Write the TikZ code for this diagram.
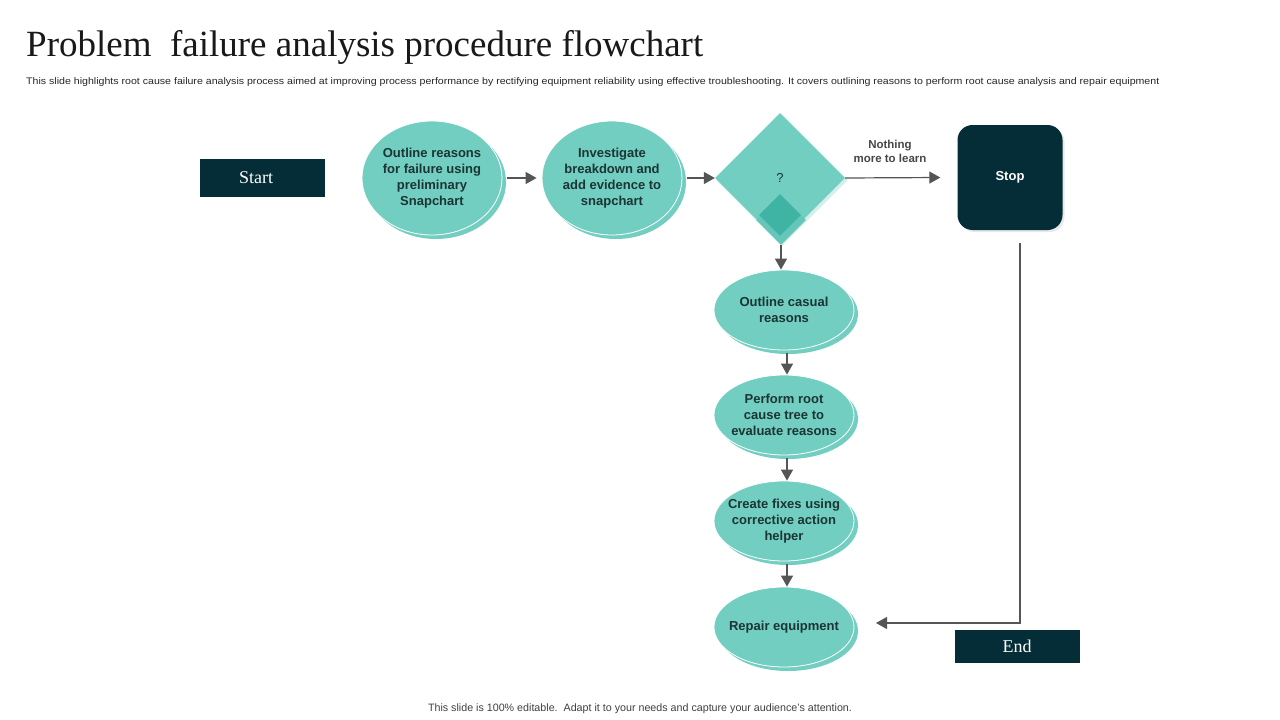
\documentclass[tikz,border=0pt]{standalone}
\usepackage{fontspec}
\setmainfont{Liberation Serif}
\setsansfont{Liberation Sans}
\usetikzlibrary{shapes.geometric,arrows.meta,shadows}
\definecolor{tealc}{HTML}{72CEC1}
\definecolor{tealdark}{HTML}{3FB3A4}
\definecolor{darkbox}{HTML}{042D38}
\definecolor{txt}{HTML}{1B3434}
\definecolor{arr}{HTML}{555555}
\tikzset{
  oval/.style={ellipse, fill=tealc, draw=white, line width=0.8pt,
    minimum width=140pt, minimum height=#1, inner sep=0pt,
    copy shadow={shadow xshift=4pt, shadow yshift=-4pt, fill=tealc, draw=none}},
  oval/.default=80pt,
  ovaltext/.style={font=\sffamily\bfseries\fontsize{13}{16}\selectfont, text=txt, align=center, inner sep=0pt},
  darkrect/.style={rectangle, fill=darkbox, text=white, font=\fontsize{18}{20}\selectfont,
    minimum width=125pt, inner sep=0pt},
  flow/.style={draw=arr, line width=1.2pt, -{Triangle[length=11pt,width=12pt]}},
}
\begin{document}
\begin{tikzpicture}[x=1pt,y=-1pt]
\useasboundingbox[fill=white] (0,0) rectangle (1280,720);
% title
\node[anchor=west, inner sep=0pt, font=\fontsize{37}{40}\selectfont, text=black!90] (title) at (26,47) {Problem\ \ failure analysis procedure flowchart};
\node[anchor=west, inner sep=0pt, font=\sffamily\fontsize{10.6}{12}\selectfont, text=black!85] (sub) at (26,82.5) {\scalebox{1}[0.9]{This slide highlights root cause failure analysis process aimed at improving process performance by rectifying equipment reliability\ using effective troubleshooting. It covers outlining reasons to perform root cause analysis and repair equipment}};
% start
\node[darkrect, minimum height=38pt, text width=125pt, align=center] (start) at (262,178) {Start\hspace*{12pt}};
% ovals top row
\node[oval=114pt] (o1) at (432,178) {};
\node[ovaltext] (o1t) at (o1) {Outline reasons\\for failure using\\preliminary\\Snapchart};
\node[oval=114pt] (o2) at (612,178) {};
\node[ovaltext] (o2t) at (o2) {Investigate\\breakdown and\\add evidence to\\snapchart};
% diamond
\node[diamond, fill=tealc!30, minimum width=132pt, minimum height=132pt, inner sep=0pt] (dshadow) at (782,180) {};
\node[diamond, fill=tealc, minimum width=130pt, minimum height=130pt, inner sep=0pt] (dec) at (780,178) {};
\node[font=\sffamily\fontsize{13}{16}\selectfont, text=txt, inner sep=0pt] (q) at (780,178) {?};
\node[diamond, fill=tealc!75!tealdark, minimum width=50pt, minimum height=50pt, inner sep=0pt] (dsm2) at (781,220) {};
\node[diamond, fill=tealdark, minimum width=42pt, minimum height=42pt, inner sep=0pt] (dsm) at (780,215) {};
% stop
\node[rectangle, rounded corners=15pt, fill=darkbox, minimum width=105pt, minimum height=105pt,
  inner sep=0pt, text=white, font=\sffamily\bfseries\fontsize{13}{16}\selectfont,
  drop shadow={shadow xshift=2pt, shadow yshift=-2pt, fill=gray!25, opacity=0.7}] (stop) at (1010,177.5) {Stop};
\node[font=\sffamily\bfseries\fontsize{11.5}{14}\selectfont, text=arr!85!black, align=center, inner sep=0pt] (lbl) at (890,151) {Nothing\\more to learn};
% column ovals
\node[oval] (o3) at (784,310) {};
\node[ovaltext] (o3t) at (o3) {Outline casual\\reasons};
\node[oval] (o4) at (784,415) {};
\node[ovaltext] (o4t) at (o4) {Perform root\\cause tree to\\evaluate reasons};
\node[oval] (o5) at (784,521) {};
\node[ovaltext] (o5t) at (o5) {Create fixes using\\corrective action\\helper};
\node[oval] (o6) at (784,627) {};
\node[ovaltext] (o6t) at (o6) {Repair equipment};
% end
\node[darkrect, minimum height=33pt] (end) at (1017,646.5) {End};
% connectors
\draw[flow] ([xshift=5pt]o1.east) -- ([xshift=-5pt]o2.west);
\draw[flow] ([xshift=5pt]o2.east) -- (dec.west);
\draw[flow] (dec.east) -- ([xshift=-17pt]stop.west);
\draw[flow] ([xshift=1pt,yshift=-2pt]dec.south) -- ([xshift=1pt]dec.south |- o3.north);
\draw[flow] ([xshift=3pt,yshift=-3pt]o3.south) -- ([xshift=3pt]o4.north);
\draw[flow] ([xshift=3pt,yshift=-3pt]o4.south) -- ([xshift=3pt]o5.north);
\draw[flow] ([xshift=3pt,yshift=-3pt]o5.south) -- ([xshift=3pt]o6.north);
\coordinate (r1) at (1020,243);
\coordinate (r2) at (1020,623);
\coordinate (r3) at (876,623);
\draw[flow] (r1) -- (r2) -- (r3);
% footer
\node[font=\sffamily\fontsize{10.7}{12}\selectfont, text=black!75, inner sep=0pt] (foot) at (640,709) {This slide is 100\% editable.\ \ Adapt it to your needs and capture your audience's attention.};
\end{tikzpicture}
\end{document}
